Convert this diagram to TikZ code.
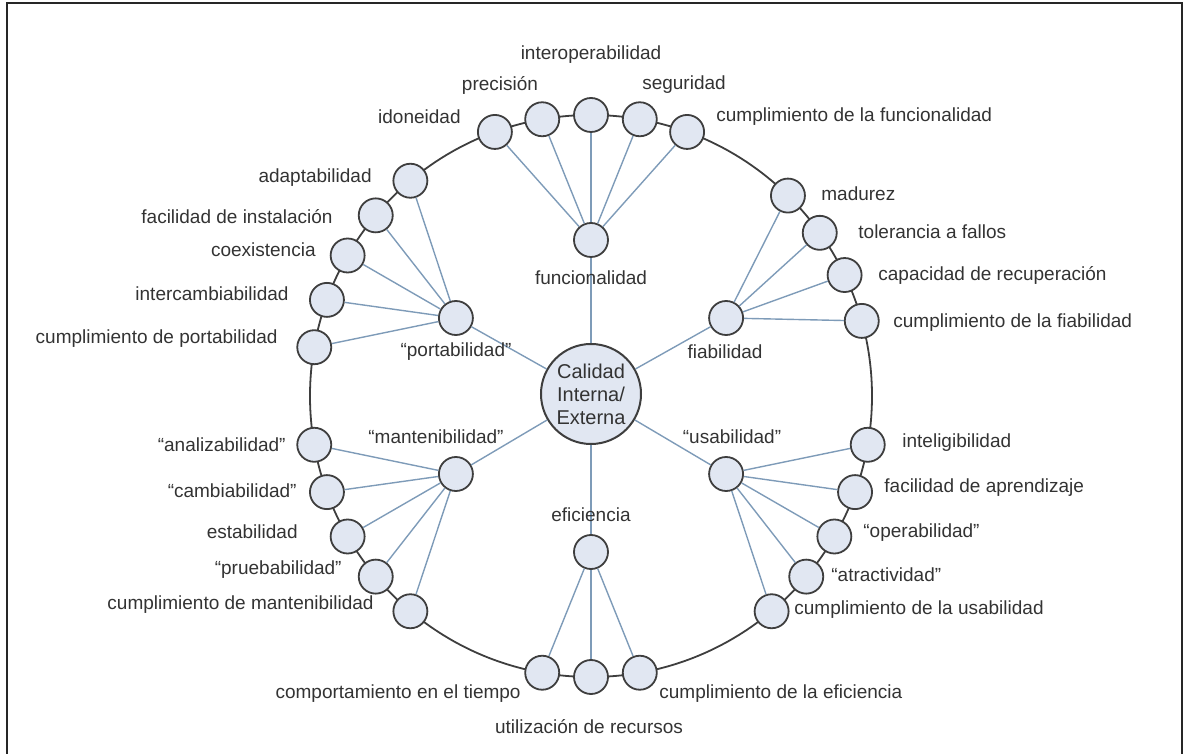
\documentclass[tikz,border=0pt]{standalone}
\usepackage{fontspec}
\setmainfont{Liberation Sans}
\usepackage{xcolor}
\usetikzlibrary{positioning}
\definecolor{isoFill}{HTML}{E1E7F2}
\definecolor{isoLine}{HTML}{3E3E3E}
\definecolor{isoSpoke}{HTML}{7E9BB8}
\definecolor{isoText}{HTML}{333333}
\newcommand{\tagfont}{\fontsize{9.5}{11}\selectfont}
\tikzset{
  leaf/.style={circle,draw=isoLine,fill=isoFill,line width=0.9pt,
    minimum size=17pt,inner sep=0pt},
  core/.style={circle,draw=isoLine,fill=isoFill,line width=1pt,
    minimum size=50pt,inner sep=0pt,align=center,
    font=\fontsize{10}{11.5}\selectfont,text=isoText},
  ring/.style={draw=isoLine,line width=0.9pt},
  spoke/.style={draw=isoSpoke,line width=0.7pt},
  tag/.style={font=\tagfont,text=isoText,inner sep=0.5pt},
  frame/.style={draw=black!85,line width=1pt}
}

\begin{document}
\begin{tikzpicture}[x=0.5pt,y=0.5pt]
  \useasboundingbox (-591,-358) rectangle (597,396);
  \draw[frame] (-584,-380) rectangle (591,392.5);

  % anillo exterior
  \draw[ring] (0,0) circle[radius=281];

  % subcaracteristicas
  \foreach \a/\n in {110/idon,100/prec,90/inte,80/segu,70/cfun,
      45.5/madu,35.5/tole,25.5/capa,15.5/cfia,
      -10/inti,-20/fapr,-30/oper,-40/atra,-50/cusa,
      -100/comp,-90/util,-80/cefi,
      190/anal,200/camb,210/esta,220/prue,230/cman,
      130/adap,140/finst,150/coex,160/interc,170/cpor}
    \node[leaf] (\n) at (\a:281) {};

  % caracteristicas
  \foreach \a/\n in {90/fun,30/fia,-30/usa,-90/efi,210/man,150/por}
    \node[leaf] (\n) at (\a:156) {};

  \node[core] (cal) at (0,2) {Calidad\\Interna/\\Externa};

  \foreach \n in {fun,fia,usa,efi,man,por}
    \draw[spoke] (cal) -- (\n);
  \foreach \l in {idon,prec,inte,segu,cfun}
    \draw[spoke] (fun) -- (\l);
  \foreach \l in {madu,tole,capa,cfia}
    \draw[spoke] (fia) -- (\l);
  \foreach \l in {inti,fapr,oper,atra,cusa}
    \draw[spoke] (usa) -- (\l);
  \foreach \l in {comp,util,cefi}
    \draw[spoke] (efi) -- (\l);
  \foreach \l in {anal,camb,esta,prue,cman}
    \draw[spoke] (man) -- (\l);
  \foreach \l in {adap,finst,coex,interc,cpor}
    \draw[spoke] (por) -- (\l);

  % etiquetas de las caracteristicas
  \node[tag] (tfun) at (0,118) {funcionalidad};
  \node[tag] (tfia) at (134,44) {fiabilidad};
  \node[tag] (tusa) at (141,-41) {``usabilidad''};
  \node[tag] (tefi) at (0,-119) {eficiencia};
  \node[tag] (tman) at (-155,-41) {``mantenibilidad''};
  \node[tag] (tpor) at (-135,44) {``portabilidad''};

  % etiquetas de las subcaracteristicas
  \node[tag,anchor=east] (tidon) at (-129,279) {idoneidad};
  \node[tag] (tprec) at (-91,311) {precisión};
  \node[tag] (tinte) at (0,341) {interoperabilidad};
  \node[tag] (tsegu) at (93,311) {seguridad};
  \node[tag,anchor=west] (tcfun) at (124,279) {cumplimiento de la funcionalidad};

  \node[tag,anchor=west] (tmadu) at (229,202) {madurez};
  \node[tag,anchor=west] (ttole) at (266,164) {tolerancia a fallos};
  \node[tag,anchor=west] (tcapa) at (286,121) {capacidad de recuperación};
  \node[tag,anchor=west] (tcfia) at (301,73) {cumplimiento de la fiabilidad};

  \node[tag,anchor=west] (tinti) at (310,-47) {inteligibilidad};
  \node[tag,anchor=west] (tfapr) at (292,-92) {facilidad de aprendizaje};
  \node[tag,anchor=west] (toper) at (271,-137) {``operabilidad''};
  \node[tag,anchor=west] (tatra) at (239,-179) {``atractividad''};
  \node[tag,anchor=west] (tcusa) at (202,-214) {cumplimiento de la usabilidad};

  \node[tag,anchor=east] (tcomp) at (-69,-298) {comportamiento en el tiempo};
  \node[tag] (tutil) at (-2,-331) {utilización de recursos};
  \node[tag,anchor=west] (tcefi) at (67,-298) {cumplimiento de la eficiencia};

  \node[tag,anchor=east] (tanal) at (-304,-49) {``analizabilidad''};
  \node[tag,anchor=east] (tcamb) at (-293,-95) {``cambiabilidad''};
  \node[tag,anchor=east] (testa) at (-292,-136) {estabilidad};
  \node[tag,anchor=east] (tprue) at (-248,-174) {``pruebabilidad''};
  \node[tag,anchor=east] (tcman) at (-216,-209) {cumplimiento de mantenibilidad};

  \node[tag,anchor=east] (tadap) at (-218,218) {adaptabilidad};
  \node[tag,anchor=east] (tfinst) at (-257,179) {facilidad de instalación};
  \node[tag,anchor=east] (tcoex) at (-274,146) {coexistencia};
  \node[tag,anchor=east] (tinterc) at (-301,102) {intercambiabilidad};
  \node[tag,anchor=east] (tcpor) at (-312,57) {cumplimiento de portabilidad};
\end{tikzpicture}
\end{document}
